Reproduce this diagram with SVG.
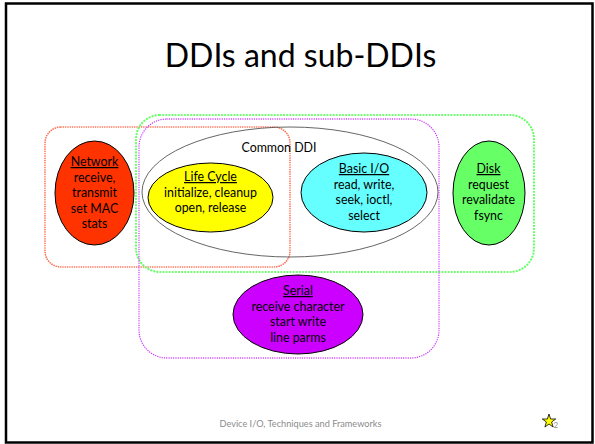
<svg xmlns="http://www.w3.org/2000/svg" width="595" height="444" viewBox="0 0 595 444">
  <style>
    .lbl { font-family: Lato, "Liberation Sans", Arial, sans-serif; font-size: 12.4px; fill: #000; text-anchor: middle; }
    .hd { text-decoration: underline; }
    .node { stroke: #000; stroke-width: 1; }
    .region { fill: none; stroke-linecap: round; }
  </style>
  <!-- slide frame -->
  <rect x="0" y="0" width="595" height="444" fill="#fff"/>
  <rect x="6" y="3.5" width="586.5" height="439" fill="none" stroke="#000" stroke-width="2.5"/>

  <!-- title -->
  <text x="300.5" y="67" font-family="Lato, 'Liberation Sans', Arial, sans-serif" font-size="32" text-anchor="middle" fill="#000">DDIs and sub-DDIs</text>

  <!-- dotted grouping regions -->
  <g id="regions">
    <rect id="region-network" class="region" x="45" y="127" width="245" height="140" rx="16" stroke="#FF6A4D" stroke-width="1.6" stroke-dasharray="0.1 2.2"/>
    <rect id="region-disk" class="region" x="136" y="115" width="398" height="157" rx="24" stroke="#66FF66" stroke-width="2.2" stroke-dasharray="0.1 3"/>
    <rect id="region-serial" class="region" x="139" y="119" width="300" height="239" rx="28" stroke="#CC33FF" stroke-width="1.3" stroke-dasharray="0.1 2.2"/>
  </g>

  <!-- common DDI envelope -->
  <g id="common-ddi">
    <ellipse cx="290" cy="192" rx="148" ry="65" fill="none" stroke="#555" stroke-width="0.9"/>
    <text class="lbl" x="279" y="152">Common DDI</text>
  </g>

  <g id="network">
    <ellipse class="node" cx="94.5" cy="193" rx="39.5" ry="52" fill="#FF3300"/>
    <text class="lbl" x="94.5" y="166"><tspan class="hd">Network</tspan><tspan x="94.5" dy="15.5">receive,</tspan><tspan x="94.5" dy="15.5">transmit</tspan><tspan x="94.5" dy="15.5">set MAC</tspan><tspan x="94.5" dy="15.5">stats</tspan></text>
  </g>

  <g id="life-cycle">
    <ellipse class="node" cx="210.5" cy="197.5" rx="62.5" ry="34.5" fill="#FFFF00"/>
    <text class="lbl" x="210.5" y="181"><tspan class="hd">Life Cycle</tspan><tspan x="210.5" dy="15.5">initialize, cleanup</tspan><tspan x="210.5" dy="15.5">open, release</tspan></text>
  </g>

  <g id="basic-io">
    <ellipse class="node" cx="364" cy="192.5" rx="63" ry="39.5" fill="#66FFFF"/>
    <text class="lbl" x="364" y="173"><tspan class="hd">Basic I/O</tspan><tspan x="364" dy="15.5">read, write,</tspan><tspan x="364" dy="15.5">seek, ioctl,</tspan><tspan x="364" dy="15.5">select</tspan></text>
  </g>

  <g id="disk">
    <ellipse class="node" cx="489" cy="193" rx="36" ry="52" fill="#66FF66"/>
    <text class="lbl" x="488.5" y="173"><tspan class="hd">Disk</tspan><tspan x="488.5" dy="15.5">request</tspan><tspan x="488.5" dy="15.5">revalidate</tspan><tspan x="488.5" dy="15.5">fsync</tspan></text>
  </g>

  <g id="serial">
    <ellipse class="node" cx="298" cy="314.5" rx="65" ry="39.5" fill="#CC00FF"/>
    <text class="lbl" x="298" y="295"><tspan class="hd">Serial</tspan><tspan x="298" dy="15.5">receive character</tspan><tspan x="298" dy="15.5">start write</tspan><tspan x="298" dy="15.5">line parms</tspan></text>
  </g>

  <!-- footer -->
  <text x="300.5" y="427" font-family="Lato, 'Liberation Sans', Arial, sans-serif" font-size="9.2" text-anchor="middle" fill="#8c8c8c">Device I/O, Techniques and Frameworks</text>
  <polygon points="549,414 550.6,419 555.7,419 551.6,422 553.1,427 549,424 544.9,427 546.4,422 542.3,419 547.4,419" fill="#FFFF00" stroke="#000" stroke-width="0.8"/>
  <text x="553.5" y="427.5" font-family="Lato, 'Liberation Sans', Arial, sans-serif" font-size="8" fill="#8c8c8c">2</text>
</svg>
